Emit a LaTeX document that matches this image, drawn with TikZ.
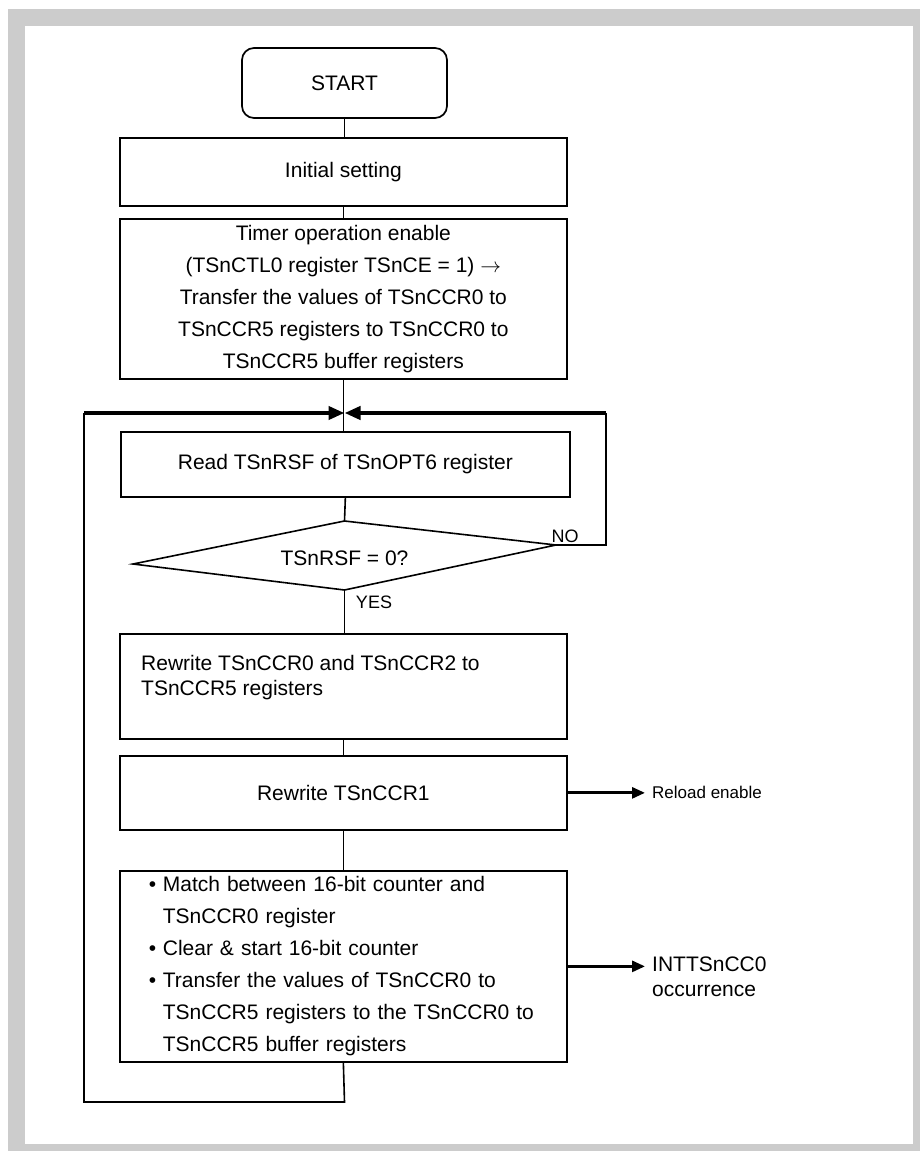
\documentclass[tikz,border=0pt]{standalone}
\usepackage{fontspec}
\setmainfont{Liberation Sans}
\usetikzlibrary{arrows.meta}
\newcommand\bulitem{\makebox[14pt][l]{\textbullet}}
\newcommand\bulind{\hspace*{14pt}}
\definecolor{framegray}{HTML}{CCCCCC}
\begin{document}
\begin{tikzpicture}[x=1pt,y=-1pt,
  every node/.style={inner sep=0pt},
  txt/.style={font=\fontsize{21}{32}\selectfont},
  procbox/.style={draw, line width=1.7pt, minimum width=447pt, txt, anchor=north west},
  conn/.style={line width=1.6pt},
  heavy/.style={line width=4pt, -{Triangle[length=16pt,width=13pt]}},
  sidearrow/.style={line width=2.8pt, -{Triangle[length=13pt,width=11pt]}, shorten >=7pt},
  lbl/.style={font=\fontsize{18}{20}\selectfont}
]
\useasboundingbox (0,0) rectangle (920,1151);
\fill[framegray] (8,9) rectangle (920,1151);
\fill[white] (25,26) rectangle (913,1144);

\node[draw, rounded corners=12pt, line width=1.7pt, minimum width=205pt, minimum height=70pt, txt] (start) at (344.5,83) {START};
\node[procbox, minimum height=68pt] (init) at (119,137) {Initial setting};
\node[procbox, minimum height=160pt, align=center] (timer) at (119,218) {Timer operation enable\\(TSnCTL0 register TSnCE = 1) \ensuremath{\rightarrow}\\Transfer the values of TSnCCR0 to\\TSnCCR5 registers to TSnCCR0 to\\TSnCCR5 buffer registers};
\node[procbox, minimum width=449pt, minimum height=65pt] (read) at (120,431) {Read TSnRSF of TSnOPT6 register};

\coordinate (dt) at (344.5,521);
\coordinate (dr) at (556,545);
\coordinate (db) at (344.5,590);
\coordinate (dl) at (133,564);
\draw[line width=1.6pt, line join=miter] (dt) -- (dr) -- (db) -- (dl) -- cycle;
\node[txt] (dec) at (344.5,558) {TSnRSF = 0?};
\node[lbl] (no) at (565,536) {NO};
\node[lbl] (yes) at (374,602) {YES};

\node[procbox, minimum height=105pt] (rw) at (119,633) {};
\node[font=\fontsize{21}{25}\selectfont, align=left, anchor=north west] (rwtext) at (141,655) {Rewrite TSnCCR0 and TSnCCR2 to\\TSnCCR5 registers};
\node[procbox, minimum height=74pt] (rw1) at (119,755) {Rewrite TSnCCR1};
\node[procbox, minimum height=191pt, align=left, text width=389pt] (last) at (119,870) {\bulitem Match between 16-bit counter and\\\bulind TSnCCR0 register\\\bulitem Clear \& start 16-bit counter\\\bulitem Transfer the values of TSnCCR0 to\\\bulind TSnCCR5 registers to the TSnCCR0 to\\\bulind TSnCCR5 buffer registers};

\node[anchor=west, font=\fontsize{17}{20}\selectfont] (reload) at (652,792) {Reload enable};
\node[anchor=west, align=left, font=\fontsize{21}{25}\selectfont] (intt) at (652,977) {INTTSnCC0\\occurrence};

\coordinate (m) at (344.5,413);
\coordinate (lb) at (344.5,1102);
\coordinate (lc) at (84,1102);
\coordinate (lt) at (84,413);
\coordinate (rr) at (606,545);
\coordinate (rt) at (606,413);

\draw[conn] (start.south) -- (start.south |- init.north);
\draw[conn] (init.south) -- (init.south |- timer.north);
\draw[conn] (timer.south) -- (timer.south |- read.north);
\draw[conn] (read.south) -- (dt);
\draw[conn] (db) -- (db |- rw.north);
\draw[conn] (rw.south) -- (rw.south |- rw1.north);
\draw[conn] (rw1.south) -- (rw1.south |- last.north);
\draw[conn] (last.south) -- (lb) -- (lc) -- (lt);
\draw[heavy] (lt) -- (m);
\draw[conn] (dr) -- (rr) -- (rt);
\draw[heavy] (rt) -- (m);
\draw[sidearrow] (rw1.east) -- (rw1.east -| reload.west);
\draw[sidearrow] (last.east) -- (last.east -| intt.west);
\end{tikzpicture}
\end{document}
